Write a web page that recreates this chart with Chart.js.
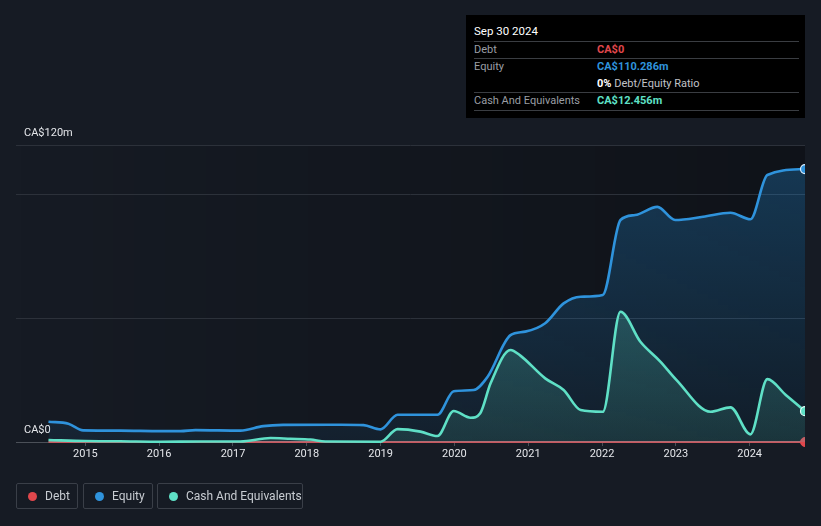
<!DOCTYPE html>
<html>
<head>
<meta charset="utf-8">
<script src="https://cdn.jsdelivr.net/npm/chart.js@4.4.1/dist/chart.umd.min.js"></script>
<style>
  html, body { margin: 0; padding: 0; background: #161b24; width: 821px; height: 526px; overflow: hidden; font-family: Roboto, "Noto Sans", sans-serif; }
  #wrap { position: relative; width: 821px; height: 526px; }
  canvas { position: absolute; left: 0; top: 0; }
  #tip { position: absolute; left: 466px; top: 15px; width: 339px; height: 103px; background: #000; color: #fff; font-size: 11px; }
  #tip .title { position: absolute; left: 8px; top: 9px; font-size: 11.5px; color: #fff; }
  #tip .sep { position: absolute; left: 8px; width: 325px; height: 1px; background: #3a3d42; }
  #tip .lab { position: absolute; left: 8px; color: #9a9ea4; }
  #tip .val { position: absolute; left: 131px; font-weight: bold; }
  #legend { position: absolute; left: 16px; top: 483px; height: 27px; }
  .lg { position: absolute; top: 0; height: 26px; border: 1px solid #3a3f48; border-radius: 2px; box-sizing: border-box; color: #c8ccd2; font-size: 12px; }
  .lg .dot { position: absolute; top: 8px; width: 9px; height: 9px; border-radius: 50%; }
  .lg .t { position: absolute; top: 5px; white-space: nowrap; }
</style>
</head>
<body>
<div id="wrap">
  <canvas id="c" width="821" height="526"></canvas>
  <div id="tip">
    <div class="title">Sep 30 2024</div>
    <div class="sep" style="top:26px"></div>
    <div class="lab" style="top:28px">Debt</div>
    <div class="val" style="top:28px;color:#e0474c">CA$0</div>
    <div class="sep" style="top:43px"></div>
    <div class="lab" style="top:45px">Equity</div>
    <div class="val" style="top:45px;color:#2f93dc">CA$110.286m</div>
    <div class="val" style="top:62px;color:#fff">0% <span style="font-weight:normal;color:#c0c3c8">Debt/Equity Ratio</span></div>
    <div class="sep" style="top:77px"></div>
    <div class="lab" style="top:79px">Cash And Equivalents</div>
    <div class="val" style="top:79px;color:#5fe0c6">CA$12.456m</div>
    <div class="sep" style="top:95px"></div>
  </div>
  <div id="legend">
    <div class="lg" style="left:0;width:62px"><div class="dot" style="left:11px;background:#e0474c"></div><div class="t" style="left:28px">Debt</div></div>
    <div class="lg" style="left:67px;width:70px"><div class="dot" style="left:11px;background:#2f93dc"></div><div class="t" style="left:28px">Equity</div></div>
    <div class="lg" style="left:141px;width:146px"><div class="dot" style="left:11px;background:#5fe0c6"></div><div class="t" style="left:28px">Cash And Equivalents</div></div>
  </div>
</div>
<script>
// ---- Data (decimal years, CA$ millions) ----
const equityDates = [2014.50, 2014.77, 2014.97, 2015.47, 2016.02, 2016.29, 2016.49, 2017.10, 2017.41, 2017.68, 2018.46, 2018.77, 2019.00, 2019.23, 2019.77, 2019.99, 2020.26, 2020.45, 2020.76, 2020.96, 2021.23, 2021.48, 2021.71, 2022.01, 2022.25, 2022.45, 2022.75, 2022.99, 2023.37, 2023.74, 2024.01, 2024.24, 2024.75];
const equityValues = [8.2, 7.4, 4.7, 4.6, 4.4, 4.4, 4.8, 4.6, 6.4, 6.9, 7.0, 6.8, 5.1, 11.0, 11.0, 20.5, 21.0, 26.4, 43.2, 44.6, 48.0, 56.0, 58.7, 59.4, 89.7, 91.7, 95.0, 89.7, 91.0, 92.6, 90.0, 107.9, 110.286];

const cashDates = [2014.50, 2015.00, 2015.47, 2016.02, 2016.56, 2017.10, 2017.51, 2017.78, 2018.05, 2018.25, 2019.00, 2019.23, 2019.54, 2019.77, 2019.99, 2020.22, 2020.35, 2020.49, 2020.76, 2020.89, 2021.23, 2021.48, 2021.71, 2022.01, 2022.25, 2022.52, 2022.79, 2023.01, 2023.47, 2023.74, 2024.01, 2024.24, 2024.49, 2024.75];
const cashValues = [0.8, 0.4, 0.3, 0.1, 0.2, 0.2, 1.6, 1.3, 1.0, 0.2, 0.1, 5.2, 4.2, 2.4, 12.5, 9.8, 11.6, 23.7, 37.2, 35.0, 25.7, 21.0, 12.9, 12.2, 52.6, 40.5, 32.5, 25.0, 12.2, 14.0, 3.1, 25.4, 19.0, 12.456];

const debtDates = [2014.50, 2017.10, 2019.00, 2022.00, 2024.75];
const debtValues = [0, 0, 0, 0, 0];

const yearTicks = [2015, 2016, 2017, 2018, 2019, 2020, 2021, 2022, 2023, 2024];
const yTicks = [0, 50, 100, 120];
const yLabels = { 0: 'CA$0', 120: 'CA$120m' };

const xMin = 2014.06, xMax = 2024.75;

function pts(d, v) { return d.map((x, i) => ({ x: x, y: v[i] })); }
function lastOnly(arr, r) { return arr.map((_, i) => i === arr.length - 1 ? r : 0); }

function vGrad(c0, c1) {
  return (ctx) => {
    const ch = ctx.chart; const a = ch.chartArea;
    if (!a) return c1;
    const g = ch.ctx.createLinearGradient(0, a.top, 0, a.bottom);
    g.addColorStop(0, c0); g.addColorStop(1, c1);
    return g;
  };
}

const bgPlugin = {
  id: 'bg',
  beforeDraw(chart) {
    const a = chart.chartArea; const c = chart.ctx;
    const g = c.createLinearGradient(a.left, 0, a.right, 0);
    g.addColorStop(0, 'rgba(0,0,0,0)');
    g.addColorStop(1, 'rgba(0,0,0,0.3)');
    c.save(); c.fillStyle = g; c.fillRect(a.left, a.top, a.right - a.left, a.bottom - a.top); c.restore();
  }
};

const clip = { left: 5, top: 5, right: 0, bottom: 6 };

new Chart(document.getElementById('c'), {
  type: 'line',
  data: {
    datasets: [
      {
        label: 'Debt', data: pts(debtDates, debtValues), borderColor: '#c8585f', borderWidth: 2,
        pointRadius: lastOnly(debtDates, 4.5), pointBackgroundColor: '#e0474c', pointBorderColor: '#e0474c', pointBorderWidth: 1,
        fill: false, tension: 0, order: 2, clip: clip
      },
      {
        label: 'Equity', data: pts(equityDates, equityValues), borderColor: '#2f93dc', borderWidth: 2.6,
        pointRadius: lastOnly(equityDates, 4.5), pointBackgroundColor: '#2f93dc', pointBorderColor: '#dfefff', pointBorderWidth: 1.2,
        fill: 'origin', backgroundColor: vGrad('rgba(35,140,215,0.32)', 'rgba(35,140,215,0.08)'),
        cubicInterpolationMode: 'monotone', order: 1, clip: clip
      },
      {
        label: 'Cash And Equivalents', data: pts(cashDates, cashValues), borderColor: '#5fe0c6', borderWidth: 2.6,
        pointRadius: lastOnly(cashDates, 4.5), pointBackgroundColor: '#5fe0c6', pointBorderColor: '#e6fffa', pointBorderWidth: 1.2,
        fill: 'origin', backgroundColor: vGrad('rgba(95,224,198,0.35)', 'rgba(95,224,198,0.12)'),
        cubicInterpolationMode: 'monotone', order: 0, clip: clip
      }
    ]
  },
  options: {
    responsive: false,
    animation: false,
    layout: { padding: { left: 16, right: 16, top: 145, bottom: 64 } },
    plugins: { legend: { display: false }, tooltip: { enabled: false } },
    scales: {
      x: {
        type: 'linear', min: xMin, max: xMax,
        afterBuildTicks: (s) => { s.ticks = yearTicks.map(v => ({ value: v })); },
        afterFit: (s) => { s.height = 20; },
        grid: { display: true, drawOnChartArea: false, drawTicks: true, tickLength: 4, color: '#4a4f57' },
        border: { display: false },
        ticks: { color: '#e4e6ea', font: { family: 'Roboto', size: 11 }, padding: 2, callback: (v) => String(v), maxRotation: 0 }
      },
      y: {
        min: 0, max: 120,
        afterBuildTicks: (s) => { s.ticks = yTicks.map(v => ({ value: v })); },
        afterFit: (s) => { s.width = 0; },
        grid: { drawTicks: false, color: (c) => c.tick && c.tick.value === 0 ? '#4b5058' : '#2c313a', lineWidth: 1 },
        border: { display: false },
        ticks: { mirror: true, padding: 8, labelOffset: -12, color: '#e4e6ea', font: { family: 'Roboto', size: 11 },
          callback: (v) => yLabels[v] || '' }
      }
    }
  },
  plugins: [bgPlugin]
});
</script>
</body>
</html>
